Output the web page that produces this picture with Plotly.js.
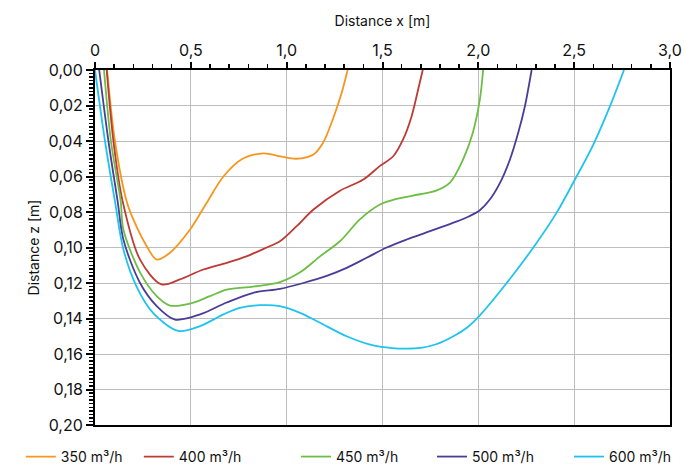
<!DOCTYPE html>
<html>
<head>
<meta charset="utf-8">
<script src="https://cdn.plot.ly/plotly-3.0.1.min.js"></script>
<style>html,body{margin:0;padding:0;background:#fff}#chart{width:685px;height:466px}</style>
</head>
<body>
<div id="chart"></div>
<script>
const seriesNames = ["350 m³/h", "400 m³/h", "450 m³/h", "500 m³/h", "600 m³/h"];
const seriesColors = ["#F7961E", "#BE3A34", "#6CBE45", "#4A3D98", "#1EC3EF"];

const x350 = [0.063, 0.104, 0.165, 0.2, 0.27, 0.322, 0.391, 0.496, 0.583, 0.67, 0.77, 0.88, 0.965, 1.05, 1.14, 1.19, 1.24, 1.287, 1.318];
const z350 = [0.000, 0.040, 0.0739, 0.0842, 0.0993, 0.1068, 0.103, 0.0899, 0.0748, 0.060, 0.050, 0.047, 0.0486, 0.050, 0.0476, 0.041, 0.028, 0.0128, 0.000];

const x400 = [0.061, 0.096, 0.144, 0.235, 0.347, 0.443, 0.565, 0.687, 0.79, 0.896, 0.965, 1.052, 1.14, 1.278, 1.40, 1.487, 1.556, 1.608, 1.652, 1.686, 1.71];
const z400 = [0.000, 0.040, 0.0739, 0.1068, 0.1208, 0.118, 0.1124, 0.1086, 0.105, 0.100, 0.0965, 0.088, 0.0786, 0.068, 0.0617, 0.054, 0.0486, 0.039, 0.026, 0.011, 0.000];

const x450 = [0.047, 0.083, 0.134, 0.148, 0.235, 0.322, 0.391, 0.496, 0.60, 0.687, 0.826, 0.965, 1.07, 1.174, 1.278, 1.382, 1.487, 1.574, 1.695, 1.78, 1.852, 1.92, 1.972, 2.008, 2.025];
const z450 = [0.000, 0.040, 0.0739, 0.0899, 0.114, 0.1274, 0.1327, 0.1316, 0.1274, 0.1237, 0.122, 0.1195, 0.114, 0.105, 0.0965, 0.0842, 0.0758, 0.0726, 0.070, 0.068, 0.0635, 0.0505, 0.035, 0.0166, 0.000];

const x500 = [0.022, 0.070, 0.118, 0.148, 0.235, 0.322, 0.417, 0.548, 0.687, 0.826, 0.965, 1.087, 1.209, 1.313, 1.417, 1.522, 1.626, 1.748, 1.87, 1.95, 2.008, 2.06, 2.113, 2.165, 2.208, 2.243, 2.278];
const z500 = [0.000, 0.040, 0.0739, 0.0955, 0.120, 0.133, 0.1406, 0.1377, 0.131, 0.1255, 0.1233, 0.120, 0.116, 0.1115, 0.1058, 0.100, 0.0955, 0.0908, 0.086, 0.0825, 0.0790, 0.073, 0.0636, 0.0504, 0.0354, 0.0204, 0.000];

const x600 = [0.0, 0.052, 0.104, 0.148, 0.217, 0.304, 0.435, 0.548, 0.67, 0.756, 0.861, 0.965, 1.07, 1.174, 1.313, 1.452, 1.55, 1.626, 1.70, 1.78, 1.87, 1.94, 2.008, 2.148, 2.287, 2.408, 2.504, 2.6, 2.687, 2.76];
const z600 = [0.000, 0.040, 0.0739, 0.101, 0.122, 0.137, 0.147, 0.1443, 0.1377, 0.134, 0.1325, 0.133, 0.1368, 0.1424, 0.150, 0.1552, 0.1567, 0.157, 0.1565, 0.1545, 0.150, 0.1452, 0.1382, 0.120, 0.100, 0.0805, 0.0617, 0.042, 0.0204, 0.000];

const xTickVals = [0, 0.5, 1.0, 1.5, 2.0, 2.5, 3.0];
const xTickText = ["0", "0,5", "1,0", "1,5", "2,0", "2,5", "3,0"];
const yTickVals = [0, 0.02, 0.04, 0.06, 0.08, 0.10, 0.12, 0.14, 0.16, 0.18, 0.20];
const yTickText = ["0,00", "0,02", "0,04", "0,06", "0,08", "0,10", "0,12", "0,14", "0,16", "0,18", "0,20"];

const xs = [x350, x400, x450, x500, x600];
const zs = [z350, z400, z450, z500, z600];
const legendIds = ["legend", "legend2", "legend3", "legend4", "legend5"];
const legendX = [-0.129, 0.0762, 0.3496, 0.5861, 0.8243];

const traces = xs.map((xv, i) => ({
  x: xv, y: zs[i], type: "scatter", mode: "lines", name: seriesNames[i],
  legend: legendIds[i],
  line: {color: seriesColors[i], width: 1.8, shape: "spline", smoothing: 0.9}
}));

const fam = "Inter, 'DejaVu Sans', sans-serif";

const layout = {
  width: 685, height: 466,
  margin: {l: 95, r: 15, t: 70, b: 41, autoexpand: false},
  paper_bgcolor: "#fff", plot_bgcolor: "#fff",
  font: {family: fam, size: 14, color: "#111"},
  showlegend: true,
  xaxis: {
    side: "top", range: [0, 3.0], tickvals: xTickVals, ticktext: xTickText,
    showgrid: true, gridcolor: "#bdbdbd", gridwidth: 1,
    showline: true, linecolor: "#000", linewidth: 2, mirror: true,
    ticks: "outside", ticklen: 6, tickwidth: 2, tickcolor: "#000",
    minor: {ticks: "outside", dtick: 0.1, ticklen: 4, tickwidth: 1.5, tickcolor: "#000", showgrid: false},
    zeroline: false, tickfont: {size: 16},
    title: {text: "Distance x [m]", font: {size: 14}, standoff: 10}
  },
  yaxis: {
    range: [0.20, 0], tickvals: yTickVals, ticktext: yTickText,
    showgrid: true, gridcolor: "#bdbdbd", gridwidth: 1,
    showline: true, linecolor: "#000", linewidth: 2, mirror: true,
    ticks: "outside", ticklen: 7, tickwidth: 2, tickcolor: "#000",
    minor: {ticks: "outside", dtick: 0.002, ticklen: 4, tickwidth: 1.5, tickcolor: "#000", showgrid: false},
    zeroline: false, tickfont: {size: 16},
    title: {text: "Distance z [m]", font: {size: 14}, standoff: 6}
  }
};

legendIds.forEach((id, i) => {
  layout[id] = {orientation: "h", x: legendX[i], xanchor: "left", y: -0.045, yanchor: "top",
                font: {family: fam, size: 14, color: "#111"}, bgcolor: "rgba(0,0,0,0)", itemwidth: 30};
});

Plotly.newPlot("chart", traces, layout, {displayModeBar: false, staticPlot: true});
</script>
</body>
</html>
